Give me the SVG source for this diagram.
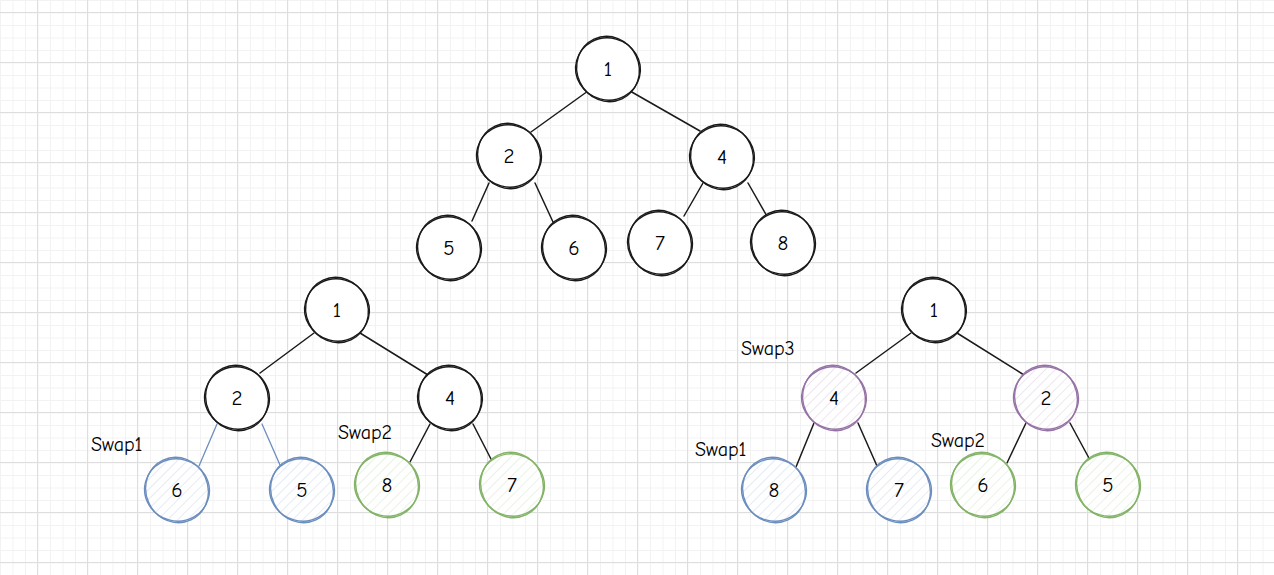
<svg xmlns="http://www.w3.org/2000/svg" width="1274" height="575" viewBox="0 0 1274 575">
<style>
.ink{fill:none;stroke:#1a1a1a;stroke-width:1.4}
.blue{fill:none;stroke:#6c8ebf;stroke-width:1.4}
.green{fill:none;stroke:#82b366;stroke-width:1.4}
.purple{fill:none;stroke:#9673a6;stroke-width:1.4}
.num{font-family:"Comic Neue","Noto Sans","Liberation Sans",sans-serif;font-size:21px;fill:#000;text-anchor:middle;dominant-baseline:central}
.lbl{font-family:"Comic Neue","Noto Sans","Liberation Sans",sans-serif;font-size:20px;fill:#000}
.edge{stroke:#1a1a1a;stroke-width:1.5;fill:none;stroke-linecap:round}
.edgeb{stroke:#6c8ebf;stroke-width:1.3;fill:none;stroke-linecap:round}
</style>
<defs>
<pattern id="minor" patternUnits="userSpaceOnUse" x="0" y="0" width="12.5" height="12.5">
<path d="M0.5 0V12.5M0 0.5H12.5" stroke="#f2f2f2" stroke-width="1"/>
</pattern>
<pattern id="major" patternUnits="userSpaceOnUse" x="37" y="12" width="50" height="50">
<path d="M0.5 0V50M0 0.5H50" stroke="#dedede" stroke-width="1"/>
</pattern>
<pattern id="hb" patternUnits="userSpaceOnUse" width="7" height="7" patternTransform="rotate(45)">
<path d="M0 0V7" stroke="#6c8ebf" stroke-opacity="0.35" stroke-width="1"/>
</pattern>
<pattern id="hg" patternUnits="userSpaceOnUse" width="7" height="7" patternTransform="rotate(45)">
<path d="M0 0V7" stroke="#82b366" stroke-opacity="0.35" stroke-width="1"/>
</pattern>
<pattern id="hp" patternUnits="userSpaceOnUse" width="7" height="7" patternTransform="rotate(45)">
<path d="M0 0V7" stroke="#9673a6" stroke-opacity="0.35" stroke-width="1"/>
</pattern>
</defs>
<rect width="1274" height="575" fill="#ffffff"/>
<rect width="1274" height="575" fill="url(#minor)"/>
<rect width="1274" height="575" fill="url(#major)"/>

<g id="connectors">
<line class="edge" x1="588" y1="91" x2="531" y2="132"/>
<line class="edge" x1="630" y1="91" x2="700" y2="131"/>
<line class="edge" x1="489" y1="183" x2="472" y2="221"/>
<line class="edge" x1="535" y1="183" x2="553" y2="222"/>
<line class="edge" x1="703" y1="183" x2="684" y2="216"/>
<line class="edge" x1="748" y1="183" x2="768" y2="218"/>
<line class="edge" x1="314" y1="333" x2="260" y2="373"/>
<line class="edge" x1="360" y1="333" x2="428" y2="375"/>
<line class="edgeb" x1="217" y1="424" x2="199" y2="466"/>
<line class="edgeb" x1="262" y1="424" x2="280" y2="465"/>
<line class="edge" x1="430" y1="424" x2="410" y2="462"/>
<line class="edge" x1="473" y1="424" x2="492" y2="461"/>
<line class="edge" x1="911" y1="333" x2="856" y2="373"/>
<line class="edge" x1="957" y1="333" x2="1024" y2="375"/>
<line class="edge" x1="814" y1="423" x2="796" y2="467"/>
<line class="edge" x1="858" y1="423" x2="877" y2="466"/>
<line class="edge" x1="1026" y1="423" x2="1007" y2="463"/>
<line class="edge" x1="1070" y1="423" x2="1090" y2="460"/>
</g>

<g id="t1" transform="translate(608,69)"><circle r="32" fill="#fff"/><ellipse class="ink" rx="32.5" ry="31" transform="rotate(15)"/><ellipse class="ink" rx="31" ry="33" transform="rotate(-25)"/><text class="num">1</text></g>
<g id="t2" transform="translate(509,156)"><circle r="32" fill="#fff"/><ellipse class="ink" rx="32.5" ry="31" transform="rotate(15)"/><ellipse class="ink" rx="31" ry="33" transform="rotate(-25)"/><text class="num">2</text></g>
<g id="t4" transform="translate(722,157)"><circle r="32" fill="#fff"/><ellipse class="ink" rx="32.5" ry="31" transform="rotate(15)"/><ellipse class="ink" rx="31" ry="33" transform="rotate(-25)"/><text class="num">4</text></g>
<g id="t5" transform="translate(449,248)"><circle r="32" fill="#fff"/><ellipse class="ink" rx="32.5" ry="31" transform="rotate(15)"/><ellipse class="ink" rx="31" ry="33" transform="rotate(-25)"/><text class="num">5</text></g>
<g id="t6" transform="translate(574,248)"><circle r="32" fill="#fff"/><ellipse class="ink" rx="32.5" ry="31" transform="rotate(15)"/><ellipse class="ink" rx="31" ry="33" transform="rotate(-25)"/><text class="num">6</text></g>
<g id="t7" transform="translate(660,243)"><circle r="32" fill="#fff"/><ellipse class="ink" rx="32.5" ry="31" transform="rotate(15)"/><ellipse class="ink" rx="31" ry="33" transform="rotate(-25)"/><text class="num">7</text></g>
<g id="t8" transform="translate(783,243)"><circle r="32" fill="#fff"/><ellipse class="ink" rx="32.5" ry="31" transform="rotate(15)"/><ellipse class="ink" rx="31" ry="33" transform="rotate(-25)"/><text class="num">8</text></g>

<g id="l1" transform="translate(337,310)"><circle r="32" fill="#fff"/><ellipse class="ink" rx="32.5" ry="31" transform="rotate(15)"/><ellipse class="ink" rx="31" ry="33" transform="rotate(-25)"/><text class="num">1</text></g>
<g id="l2" transform="translate(237,398)"><circle r="32" fill="#fff"/><ellipse class="ink" rx="32.5" ry="31" transform="rotate(15)"/><ellipse class="ink" rx="31" ry="33" transform="rotate(-25)"/><text class="num">2</text></g>
<g id="l4" transform="translate(450,398)"><circle r="32" fill="#fff"/><ellipse class="ink" rx="32.5" ry="31" transform="rotate(15)"/><ellipse class="ink" rx="31" ry="33" transform="rotate(-25)"/><text class="num">4</text></g>
<g id="l6" transform="translate(177,490)"><circle r="32" fill="#fff"/><circle r="32" fill="url(#hb)"/><ellipse class="blue" rx="32.5" ry="31" transform="rotate(15)"/><ellipse class="blue" rx="31" ry="33" transform="rotate(-25)"/><text class="num">6</text></g>
<g id="l5" transform="translate(302,490)"><circle r="32" fill="#fff"/><circle r="32" fill="url(#hb)"/><ellipse class="blue" rx="32.5" ry="31" transform="rotate(15)"/><ellipse class="blue" rx="31" ry="33" transform="rotate(-25)"/><text class="num">5</text></g>
<g id="l8" transform="translate(387,485)"><circle r="32" fill="#fff"/><circle r="32" fill="url(#hg)"/><ellipse class="green" rx="32.5" ry="31" transform="rotate(15)"/><ellipse class="green" rx="31" ry="33" transform="rotate(-25)"/><text class="num">8</text></g>
<g id="l7" transform="translate(512,485)"><circle r="32" fill="#fff"/><circle r="32" fill="url(#hg)"/><ellipse class="green" rx="32.5" ry="31" transform="rotate(15)"/><ellipse class="green" rx="31" ry="33" transform="rotate(-25)"/><text class="num">7</text></g>

<g id="r1" transform="translate(934,310)"><circle r="32" fill="#fff"/><ellipse class="ink" rx="32.5" ry="31" transform="rotate(15)"/><ellipse class="ink" rx="31" ry="33" transform="rotate(-25)"/><text class="num">1</text></g>
<g id="r4" transform="translate(834,398)"><circle r="32" fill="#fff"/><circle r="32" fill="url(#hp)"/><ellipse class="purple" rx="32.5" ry="31" transform="rotate(15)"/><ellipse class="purple" rx="31" ry="33" transform="rotate(-25)"/><text class="num">4</text></g>
<g id="r2" transform="translate(1046,398)"><circle r="32" fill="#fff"/><circle r="32" fill="url(#hp)"/><ellipse class="purple" rx="32.5" ry="31" transform="rotate(15)"/><ellipse class="purple" rx="31" ry="33" transform="rotate(-25)"/><text class="num">2</text></g>
<g id="r8" transform="translate(774,490)"><circle r="32" fill="#fff"/><circle r="32" fill="url(#hb)"/><ellipse class="blue" rx="32.5" ry="31" transform="rotate(15)"/><ellipse class="blue" rx="31" ry="33" transform="rotate(-25)"/><text class="num">8</text></g>
<g id="r7" transform="translate(899,490)"><circle r="32" fill="#fff"/><circle r="32" fill="url(#hb)"/><ellipse class="blue" rx="32.5" ry="31" transform="rotate(15)"/><ellipse class="blue" rx="31" ry="33" transform="rotate(-25)"/><text class="num">7</text></g>
<g id="r6" transform="translate(983,485)"><circle r="32" fill="#fff"/><circle r="32" fill="url(#hg)"/><ellipse class="green" rx="32.5" ry="31" transform="rotate(15)"/><ellipse class="green" rx="31" ry="33" transform="rotate(-25)"/><text class="num">6</text></g>
<g id="r5" transform="translate(1108,485)"><circle r="32" fill="#fff"/><circle r="32" fill="url(#hg)"/><ellipse class="green" rx="32.5" ry="31" transform="rotate(15)"/><ellipse class="green" rx="31" ry="33" transform="rotate(-25)"/><text class="num">5</text></g>

<g id="labels">
<text class="lbl" x="91" y="451">Swap1</text>
<text class="lbl" x="338" y="439">Swap2</text>
<text class="lbl" x="741" y="355">Swap3</text>
<text class="lbl" x="695" y="456">Swap1</text>
<text class="lbl" x="931" y="447">Swap2</text>
</g>
</svg>
